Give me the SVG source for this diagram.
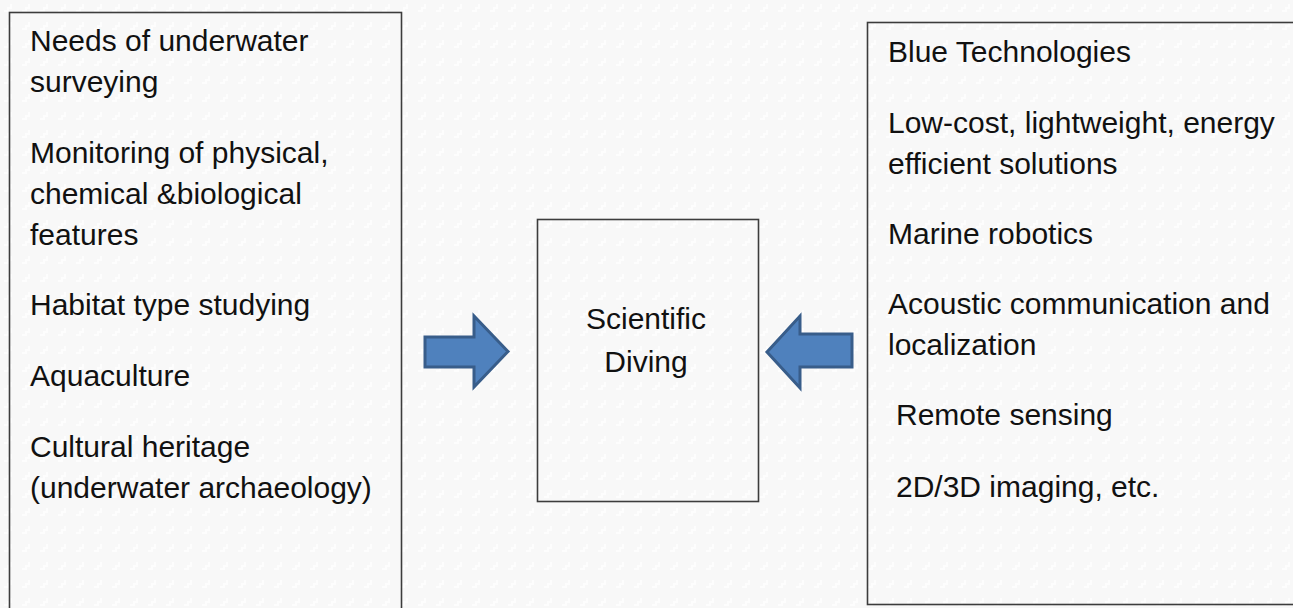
<svg xmlns="http://www.w3.org/2000/svg" width="1293" height="608" viewBox="0 0 1293 608">
  <defs>
    <!-- faint stepped texture of the slide background -->
    <pattern id="bgTex" width="18" height="18" patternUnits="userSpaceOnUse">
      <rect width="18" height="18" fill="#f8f8f8"/>
      <path d="M4 10h3v-3h3v-3h2v5h-3v3h-5z" fill="#fdfdfd"/>
    </pattern>
  </defs>
  <style>
    .box { fill: none; stroke: #3c3c3c; stroke-width: 1.6; }
    .txt { font-family: "Liberation Sans", Arial, sans-serif; font-size: 30px; fill: #111111; }
    .mid { font-family: "Liberation Sans", Arial, sans-serif; font-size: 30px; fill: #111111; text-anchor: middle; }
    .arrow { fill: #4f81bd; stroke: #385d8a; stroke-width: 3; stroke-linejoin: miter; }
  </style>

  <rect width="1293" height="608" fill="url(#bgTex)"/>

  <!-- left panel: survey needs -->
  <g id="needs">
    <rect class="box" x="9.5" y="12.5" width="392" height="610"/>
    <text class="txt" x="30" y="51">Needs of underwater</text>
    <text class="txt" x="30" y="92">surveying</text>
    <text class="txt" x="30" y="163">Monitoring of physical,</text>
    <text class="txt" x="30" y="204">chemical &amp;biological</text>
    <text class="txt" x="30" y="245">features</text>
    <text class="txt" x="30" y="315">Habitat type studying</text>
    <text class="txt" x="30" y="386">Aquaculture</text>
    <text class="txt" x="30" y="457">Cultural heritage</text>
    <text class="txt" x="30" y="498">(underwater archaeology)</text>
  </g>

  <!-- centre panel -->
  <g id="diving">
    <rect class="box" x="537.5" y="219.5" width="221" height="282"/>
    <text class="mid" x="646" y="329">Scientific</text>
    <text class="mid" x="646" y="372">Diving</text>
  </g>

  <!-- right panel: technologies -->
  <g id="blue-tech">
    <rect class="box" x="867.5" y="22.5" width="440" height="582"/>
    <text class="txt" x="888" y="62">Blue Technologies</text>
    <text class="txt" x="888" y="133">Low-cost, lightweight, energy</text>
    <text class="txt" x="888" y="174">efficient solutions</text>
    <text class="txt" x="888" y="244">Marine robotics</text>
    <text class="txt" x="888" y="314">Acoustic communication and</text>
    <text class="txt" x="888" y="355">localization</text>
    <text class="txt" x="896" y="425">Remote sensing</text>
    <text class="txt" x="896" y="497">2D/3D imaging, etc.</text>
  </g>

  <!-- block arrows into the centre -->
  <g id="connectors">
    <path class="arrow" d="M425 337H474V316L508 351.5L474 387V367H425Z"/>
    <path class="arrow" d="M852 334H800V316L767 352L800 388V367H852Z"/>
  </g>
</svg>
